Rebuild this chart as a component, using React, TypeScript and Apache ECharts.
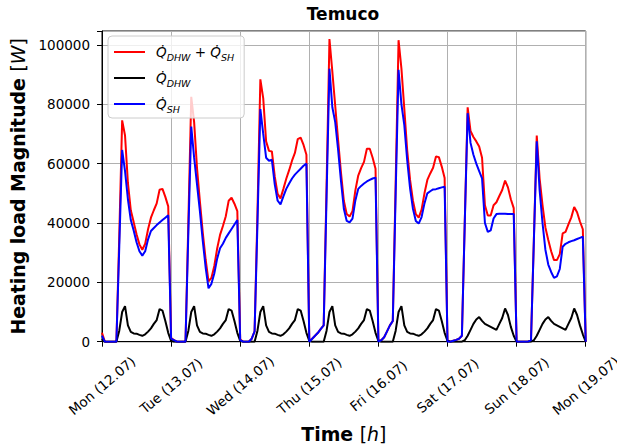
import React, { useEffect, useRef } from 'react';
import * as echarts from 'echarts';

const KW = 1000;
const HOURS_PER_DAY = 24;
const TOTAL_HOURS = 168;

const dayLabels = ['Mon (12.07)', 'Tue (13.07)', 'Wed (14.07)', 'Thu (15.07)', 'Fri (16.07)', 'Sat (17.07)', 'Sun (18.07)', 'Mon (19.07)'];
const yTicks = [0, 20000, 40000, 60000, 80000, 100000];

// Q_DHW (black), kW, hourly 0..23 per day
const dhwMon = [1, 0, 0, 0, 0, 0, 3.7, 10, 12, 5.5, 3.3, 2.8, 2.7, 2.3, 2, 2.5, 3.4, 4.5, 6, 7.3, 11, 10.5, 7, 3];
const dhwTue = [0.3, 0, 0, 0, 0, 0, 3.7, 10, 12, 5.5, 3.3, 2.8, 2.7, 2.3, 2, 2.5, 3.4, 4.5, 6, 7.3, 11, 10.5, 7, 3];
const dhwWed = [0.3, 0, 0, 0, 0, 0, 3.7, 10, 12, 5.5, 3.3, 2.8, 2.7, 2.3, 2, 2.5, 3.4, 4.5, 6, 7.3, 11, 10.5, 7, 3];
const dhwThu = [0.3, 0, 0, 0, 0, 0, 3.7, 10, 12, 5.5, 3.3, 2.8, 2.7, 2.3, 2, 2.5, 3.4, 4.5, 6, 7.3, 11, 10.5, 7, 3];
const dhwFri = [0.3, 0, 0, 0, 0, 0, 3.7, 10, 12, 5.5, 3.3, 2.8, 2.7, 2.3, 2, 2.5, 3.4, 4.5, 6, 7.3, 11, 10.5, 7, 3];
const dhwSat = [0.3, 0, 0, 0, 0, 0, 0.5, 2, 4, 6, 7.5, 8.3, 7, 6, 5.5, 5, 4.5, 4, 6, 8, 11.2, 9, 5, 2];
const dhwSun = [0, 0, 0, 0, 0, 0, 0.5, 2, 4, 6, 7.5, 8.3, 7, 6, 5.5, 5, 4.5, 4, 6, 8, 11.2, 9, 5.5, 2.5];

// Q_SH (blue), kW
const shMon = [2, 0, 0, 0, 0, 0, 32, 64.6, 57.5, 48, 41, 37.5, 33.5, 30.5, 29, 30.5, 34.5, 37.3, 38.3, 39.3, 40.2, 41, 41.8, 42.6];
const shTue = [1, 0.5, 0, 0, 0, 0, 37, 72.5, 62, 53, 44, 34, 25, 18, 19.5, 23, 28, 31.5, 33, 35, 36.5, 38, 39.5, 41];
const shWed = [0.5, 0, 0, 0, 1, 3.5, 40, 78.4, 70, 62, 61, 61.3, 53, 47.5, 46.3, 49, 51.5, 53.3, 55, 56.3, 57.3, 58.3, 59.3, 60];
const shThu = [0, 1, 2, 3, 4.3, 5.5, 49, 92, 79, 74, 64.7, 54.2, 44.8, 40.7, 40.2, 41.5, 47.6, 51.5, 52.5, 53.3, 54, 54.5, 55, 55.3];
const shFri = [0, 0.5, 1.5, 3.5, 5.5, 7, 50, 91.6, 80, 73, 61.2, 51.7, 44.8, 40.7, 39.8, 42, 46.6, 50, 50.7, 51.3, 51.4, 51.7, 52, 52.2];
const shSat = [0, 0, 0.3, 0.6, 1, 2, 40, 77, 67, 63, 60, 57.5, 55, 40, 37, 37.5, 41.5, 43, 43.1, 43.1, 43.1, 43, 43, 43];
const shSun = [0, 0, 0, 0, 0, 0.5, 34, 67.5, 51, 40, 31, 26, 23.5, 21.5, 22, 24.5, 32, 33, 33.5, 33.9, 34.2, 34.6, 35, 35.4];

// Q_DHW + Q_SH (red), kW
const totMon = [3, 0, 0, 0, 0, 0, 35.7, 74.6, 69.5, 53.5, 44.3, 40.3, 36.2, 32.8, 31, 33, 37.9, 41.8, 44.3, 46.6, 51.2, 51.5, 48.8, 45.6];
const totTue = [1.3, 0.5, 0, 0, 0, 0, 40.7, 82.5, 74, 58.5, 47.3, 36.8, 27.7, 20.3, 21.5, 25.5, 31.4, 36, 39, 42.3, 47.5, 48.5, 46.5, 44];
const totWed = [0.8, 0, 0, 0, 1, 3.5, 43.7, 88.4, 82, 67.5, 64.3, 64.1, 55.7, 49.8, 48.3, 51.5, 54.9, 57.8, 61, 63.6, 68.3, 68.8, 66.3, 63];
const totThu = [0.3, 1, 2, 3, 4.3, 5.5, 52.7, 102, 91, 79.5, 68, 57, 47.5, 43, 42.2, 44, 51, 56, 58.5, 60.6, 65, 65, 62, 58.3];
const totFri = [0.3, 0.5, 1.5, 3.5, 5.5, 7, 53.7, 101.6, 92, 78.5, 64.5, 54.5, 47.5, 43, 41.8, 44.5, 50, 54.5, 56.7, 58.6, 62.4, 62.2, 59, 55.2];
const totSat = [0.3, 0, 0.3, 0.6, 1, 2, 40.5, 79, 71, 69, 67.5, 65.8, 62, 46, 42.5, 42.5, 46, 47, 49.1, 51.1, 54.3, 52, 48, 45];
const totSun = [0, 0, 0, 0, 0, 0.5, 34.5, 69.5, 55, 46, 38.5, 34.3, 30.5, 27.5, 27.5, 29.5, 36.5, 37, 39.5, 41.9, 45.4, 43.6, 40.5, 37.9];

// value at Mon 19.07 00:00
const lastTot = 0;
const lastDhw = 0;
const lastSh = 0;

function build(days: number[][], last: number): [number, number][] {
  const pts: [number, number][] = [];
  days.forEach((d, i) => d.forEach((v, h) => pts.push([i * HOURS_PER_DAY + h, v * KW])));
  pts.push([TOTAL_HOURS, last * KW]);
  return pts;
}

const FONT = 'DejaVu Sans';

export default function App() {
  const ref = useRef<HTMLDivElement>(null);
  useEffect(() => {
    if (!ref.current) return;
    const chart = echarts.init(ref.current, null, { renderer: 'svg' });
    const totData = build([totMon, totTue, totWed, totThu, totFri, totSat, totSun], lastTot);
    const dhwData = build([dhwMon, dhwTue, dhwWed, dhwThu, dhwFri, dhwSat, dhwSun], lastDhw);
    const shData = build([shMon, shTue, shWed, shThu, shFri, shSat, shSun], lastSh);
    const Q = 'Q\u0307';
    const legendRich = {
      sp: { width: 6 },
      q: { fontFamily: FONT, fontSize: 13.5, fontStyle: 'italic', color: '#000', lineHeight: 20 },
      s: { fontFamily: FONT, fontSize: 9.5, fontStyle: 'italic', color: '#000', lineHeight: 9, verticalAlign: 'bottom' },
      o: { fontFamily: FONT, fontSize: 13.5, color: '#000', lineHeight: 20 },
    };
    chart.setOption({
      animation: false,
      backgroundColor: '#fff',
      title: {
        text: 'Temuco',
        left: 343,
        top: 5,
        padding: 0,
        textAlign: 'center',
        textStyle: { fontFamily: FONT, fontSize: 17, fontWeight: 'bold', color: '#000' },
      },
      legend: {
        orient: 'vertical',
        left: 108,
        top: 36,
        padding: [6, 10, 4, 6],
        itemGap: 6,
        itemWidth: 31,
        itemHeight: 2,
        icon: 'rect',
        selectedMode: false,
        backgroundColor: 'rgba(255,255,255,0.8)',
        borderColor: '#cccccc',
        borderWidth: 1,
        borderRadius: 4,
        data: ['total', 'dhw', 'sh'],
        formatter: (name: string) => {
          if (name === 'total') return `{sp|}{q|${Q}}{s|DHW}{o| + }{q|${Q}}{s|SH}`;
          if (name === 'dhw') return `{sp|}{q|${Q}}{s|DHW}`;
          return `{sp|}{q|${Q}}{s|SH}`;
        },
        textStyle: { rich: legendRich, lineHeight: 20 },
      },
      grid: {
        left: 102,
        right: 31.3,
        top: 31,
        bottom: 104.3,
        show: true,
        borderColor: '#000',
        borderWidth: 1,
        containLabel: false,
        outerBoundsMode: 'none',
      },
      xAxis: {
        type: 'value',
        min: 0,
        max: TOTAL_HOURS,
        interval: HOURS_PER_DAY,
        name: '{b|Time }{n|[}{i|h}{n|]}',
        nameLocation: 'middle',
        nameGap: 80,
        nameTextStyle: {
          rich: {
            b: { fontFamily: FONT, fontSize: 18.9, fontWeight: 'bold', color: '#000' },
            n: { fontFamily: FONT, fontSize: 18.9, color: '#000' },
            i: { fontFamily: FONT, fontSize: 18.9, fontStyle: 'italic', color: '#000' },
          },
        },
        axisLine: { show: true, lineStyle: { color: '#000', width: 1 } },
        axisTick: { show: true, length: 5, lineStyle: { color: '#000', width: 1 } },
        axisLabel: {
          rotate: 40,
          margin: 44,
          align: 'center',
          verticalAlign: 'middle',
          fontFamily: FONT,
          fontSize: 13.5,
          color: '#000',
          formatter: (v: number) => dayLabels[Math.round(v / HOURS_PER_DAY)] ?? '',
          showMinLabel: true,
          showMaxLabel: true,
        },
        splitLine: { show: true, lineStyle: { color: '#b0b0b0', width: 1 } },
      },
      yAxis: {
        type: 'value',
        min: 0,
        max: 104700,
        interval: 20000,
        name: '{b|Heating load Magnitude }{n|[}{i|W}{n|]}',
        nameLocation: 'middle',
        nameRotate: 90,
        nameGap: 70,
        nameTextStyle: {
          rich: {
            b: { fontFamily: FONT, fontSize: 18.9, fontWeight: 'bold', color: '#000' },
            n: { fontFamily: FONT, fontSize: 18.9, color: '#000' },
            i: { fontFamily: FONT, fontSize: 18.9, fontStyle: 'italic', color: '#000' },
          },
        },
        axisLine: { show: true, lineStyle: { color: '#000', width: 1 } },
        axisTick: { show: true, length: 5, lineStyle: { color: '#000', width: 1 } },
        axisLabel: {
          margin: 12,
          fontFamily: FONT,
          fontSize: 13.5,
          color: '#000',
          formatter: (v: number) => (yTicks.includes(v) ? String(v) : ''),
        },
        splitLine: { show: true, lineStyle: { color: '#b0b0b0', width: 1 } },
      },
      series: [
        { name: 'total', type: 'line', data: totData, showSymbol: false, symbol: 'none', color: '#ff0000', lineStyle: { color: '#ff0000', width: 2 }, z: 2 },
        { name: 'dhw', type: 'line', data: dhwData, showSymbol: false, symbol: 'none', color: '#000000', lineStyle: { color: '#000000', width: 2 }, z: 3 },
        { name: 'sh', type: 'line', data: shData, showSymbol: false, symbol: 'none', color: '#0000ff', lineStyle: { color: '#0000ff', width: 2 }, z: 4 },
      ],
    });
    return () => chart.dispose();
  }, []);
  return <div ref={ref} style={{ position: 'absolute', left: 0, top: 0, width: 617, height: 446 }} />;
}
